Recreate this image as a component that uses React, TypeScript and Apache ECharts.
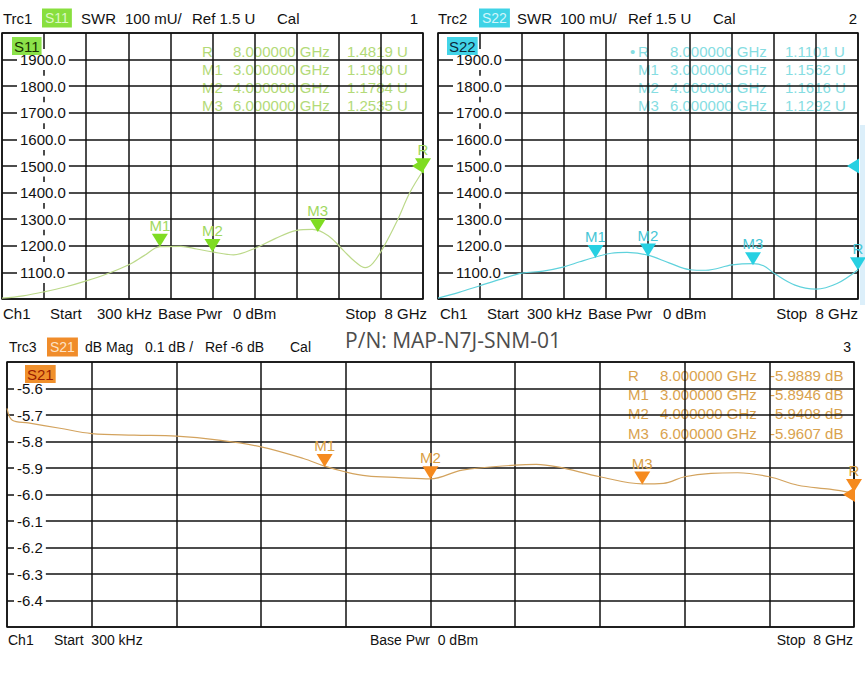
import React, { useEffect, useRef } from 'react';
import * as echarts from 'echarts';

const FONT = '"Liberation Sans", Arial, sans-serif';

// ---------- data ----------
const s11Freq = [0.0003, 0.4, 0.8, 1.2, 1.6, 2.0, 2.4, 2.7, 3.0, 3.4, 3.7, 4.0, 4.4, 4.8, 5.2, 5.6, 5.9, 6.2, 6.5, 6.7, 6.9, 7.05, 7.25, 7.5, 7.75, 8.0];
const s11Val = [1003, 1012, 1027, 1045, 1068, 1095, 1128, 1163, 1197, 1198, 1188, 1177, 1166, 1190, 1228, 1258, 1262, 1238, 1180, 1142, 1118, 1135, 1195, 1290, 1400, 1482];

const s22Freq = [0.0003, 0.4, 0.8, 1.2, 1.6, 2.0, 2.4, 2.7, 3.0, 3.3, 3.6, 4.0, 4.4, 4.8, 5.1, 5.6, 6.0, 6.2, 6.4, 6.8, 7.2, 7.6, 8.0];
const s22Val = [1003, 1025, 1050, 1075, 1097, 1105, 1121, 1140, 1158, 1172, 1175, 1165, 1136, 1110, 1108, 1128, 1133, 1125, 1097, 1052, 1037, 1058, 1110];

const s21Freq = [0.0003, 0.05, 0.2, 0.5, 0.8, 1.2, 1.6, 2.0, 2.4, 2.8, 3.0, 3.2, 3.4, 3.7, 4.0, 4.3, 4.8, 5.0, 5.2, 5.6, 6.0, 6.2, 6.4, 6.65, 6.9, 7.2, 7.47, 7.77, 8.0];
const s21Val = [-5.675, -5.72, -5.73, -5.75, -5.77, -5.776, -5.78, -5.795, -5.82, -5.864, -5.893, -5.915, -5.93, -5.936, -5.941, -5.908, -5.889, -5.886, -5.896, -5.933, -5.96, -5.958, -5.933, -5.92, -5.918, -5.933, -5.965, -5.98, -5.995];

const markerNames = ['R', 'M1', 'M2', 'M3'];
const markerFreqs = [8, 3, 4, 6];
const s11Markers = [1.4819, 1.198, 1.1784, 1.2535];
const s22Markers = [1.1101, 1.1562, 1.1616, 1.1292];
const s21Markers = [-5.9889, -5.8946, -5.9408, -5.9607];
const refLevels = [1500, 1500, -6];

const header1 = ['Trc1', 'S11', 'SWR', '100 mU/', 'Ref 1.5 U', 'Cal', '1'];
const header2 = ['Trc2', 'S22', 'SWR', '100 mU/', 'Ref 1.5 U', 'Cal', '2'];
const header3 = ['Trc3', 'S21', 'dB Mag', '0.1 dB /', 'Ref -6 dB', 'Cal', '3'];
const footer = ['Ch1', 'Start', '300 kHz', 'Base Pwr', '0 dBm', 'Stop  8 GHz'];
const partNumber = 'P/N: MAP-N7J-SNM-01';

// ---------- helpers ----------
function txt(x: number, y: number, text: string, o: any = {}) {
  const size = o.size ?? 15;
  return {
    type: 'text',
    x,
    y,
    z: o.z ?? 20,
    silent: true,
    style: {
      text,
      fill: o.fill ?? '#111',
      fontSize: size,
      fontFamily: o.family ?? FONT,
      align: o.align ?? 'left',
      textAlign: o.align ?? 'left',
      verticalAlign: 'middle',
      textVerticalAlign: 'middle',
      backgroundColor: o.bg,
      padding: o.pad,
      opacity: o.opacity ?? 1,
    },
  };
}

function readouts(vals: number[], unit: string, digits: number, pos: any, color: string, dot: boolean) {
  const els: any[] = [];
  vals.forEach((v, i) => {
    const y = pos.rows[i];
    const o = { fill: color, z: -1, size: pos.size };
    els.push(txt(pos.name, y, markerNames[i], o));
    if (dot && i === 0) els.push(txt(pos.name - 8, y, '•', o));
    els.push(txt(pos.freq, y, markerFreqs[i].toFixed(6) + ' GHz', o));
    els.push(txt(pos.val, y, v.toFixed(digits) + ' ' + unit, o));
  });
  return els;
}

function markSeries(name: string, grid: number, xs: number[], ys: number[], lineColor: string, markColor: string, labelColor: string, mVals: number[], ref: number) {
  const data: any[] = mVals.map((v, i) => ({ name: markerNames[i], coord: [markerFreqs[i], v] }));
  data.push({
    name: 'ref',
    coord: [8, ref],
    symbolRotate: 90,
    symbolSize: [15, 12],
    symbolOffset: [-5, 0],
    label: { show: false },
  });
  return {
    type: 'line',
    name,
    xAxisIndex: grid,
    yAxisIndex: grid,
    data: xs.map((x, i) => [x, ys[i]]),
    showSymbol: false,
    smooth: 0.35,
    lineStyle: { color: lineColor, width: 1.2 },
    z: 4,
    markPoint: {
      symbol: 'triangle',
      symbolSize: [16, 13],
      symbolRotate: 180,
      symbolOffset: [0, -6],
      itemStyle: { color: markColor },
      label: { show: true, position: 'top', distance: 1, formatter: '{b}', color: labelColor, fontSize: 15, fontFamily: FONT },
      data,
      z: 6,
    },
  };
}

export default function App() {
  const ref = useRef<HTMLDivElement>(null);
  useEffect(() => {
    const chart = echarts.init(ref.current!, null, { renderer: 'svg' });

    const grids = [
      { left: 2, top: 33, width: 421, height: 266 },
      { left: 438, top: 33, width: 420, height: 266 },
      { left: 7, top: 362, width: 847, height: 265 },
    ].map((g) => ({ ...g, show: true, borderColor: '#111', borderWidth: 1.5, backgroundColor: 'transparent', containLabel: false }));

    const xAxes = [0, 1, 2].map((i) => ({
      type: 'value',
      gridIndex: i,
      min: 0,
      max: 8,
      interval: 0.8,
      axisLabel: { show: false },
      axisTick: { show: false },
      axisLine: { show: false },
      splitLine: { show: true, lineStyle: { color: '#111', width: 1.5 } },
      z: 1,
    }));

    const yLabel = (margin: number, size: number, dec: number) => ({
      inside: true,
      margin,
      showMinLabel: false,
      showMaxLabel: false,
      formatter: (v: number) => v.toFixed(dec),
      color: '#111',
      fontSize: size,
      fontFamily: FONT,
      backgroundColor: '#fff',
      padding: [3, 3, 3, 3],
    });

    const yAxes = [
      { gridIndex: 0, min: 1000, max: 2000, interval: 100, axisLabel: yLabel(15, 15, 1) },
      { gridIndex: 1, min: 1000, max: 2000, interval: 100, axisLabel: yLabel(15, 15, 1) },
      { gridIndex: 2, min: -6.5, max: -5.5, interval: 0.1, axisLabel: yLabel(7, 15, 1) },
    ].map((a) => ({
      type: 'value',
      ...a,
      axisTick: { show: false },
      axisLine: { show: false },
      splitLine: { show: true, lineStyle: { color: '#111', width: 1.5 } },
      z: 3,
    }));

    const g: any[] = [];
    // headers
    const h1x = [3, 42, 81, 125, 192, 277, 418];
    const h2x = [438, 479, 517, 560, 628, 713, 857];
    const h3x = [9, 47, 85, 145, 205, 290, 851];
    const headerBlock = (h: string[], xs: number[], y: number, size: number, bg: string, fg: string) => {
      h.forEach((t, i) => {
        if (i === 1) g.push(txt(xs[i], y, t, { size: 14, bg, fill: fg, pad: [3, 3, 2, 3] }));
        else g.push(txt(xs[i], y, t, { size, align: i === 6 ? 'right' : 'left' }));
      });
    };
    headerBlock(header1, h1x, 18, 15, '#88df3e', '#dcf8c4');
    headerBlock(header2, h2x, 18, 15, '#3fd3e6', '#d0f6fb');
    headerBlock(header3, h3x, 347, 14, '#f08c2a', '#fde2c4');

    // in-plot trace labels
    g.push(txt(12, 46, 'S11', { size: 15, bg: '#8be24a', fill: '#173400', pad: [2, 2, 1, 2], z: 30 }));
    g.push(txt(447, 46, 'S22', { size: 15, bg: '#42d4e8', fill: '#0b2a3c', pad: [2, 2, 1, 2], z: 30 }));
    g.push(txt(25, 374, 'S21', { size: 15, bg: '#f0902c', fill: '#9a1c00', pad: [2, 2, 1, 2], z: 30 }));

    // footers
    const fy = 313;
    const f1x = [3, 50, 97, 158, 233];
    const f2x = [440, 487, 527, 588, 663];
    footer.slice(0, 5).forEach((t, i) => {
      g.push(txt(f1x[i], fy, t));
      g.push(txt(f2x[i], fy, t));
    });
    g.push(txt(427, fy, footer[5], { align: 'right' }));
    g.push(txt(858, fy, footer[5], { align: 'right' }));
    const by = 640;
    g.push(txt(8, by, footer[0], { size: 14 }));
    g.push(txt(54, by, footer[1] + '  ' + footer[2], { size: 14 }));
    g.push(txt(370, by, footer[3] + '  ' + footer[4], { size: 14 }));
    g.push(txt(853, by, footer[5], { size: 14, align: 'right' }));

    // part number
    g.push(txt(453, 340, partNumber, { size: 21, family: '"Open Sans", "Noto Sans", sans-serif', fill: '#4d4d4d', align: 'center' }));

    // marker readouts
    g.push(...readouts(s11Markers, 'U', 4, { name: 202, freq: 233, val: 347, rows: [51, 69, 87, 105], size: 15 }, '#b3da78', false));
    g.push(...readouts(s22Markers, 'U', 4, { name: 638, freq: 670, val: 785, rows: [51, 69, 87, 105], size: 15 }, '#86dde2', true));
    g.push(...readouts(s21Markers, 'dB', 4, { name: 628, freq: 660, val: 770, rows: [375, 394, 413.5, 433], size: 15 }, '#d9a24e', false));

    // light strip at the right edge of the screenshot
    g.push({ type: 'rect', shape: { x: 860, y: 125, width: 5, height: 180 }, style: { fill: '#dceffa' }, z: -2, silent: true });

    chart.setOption({
      animation: false,
      backgroundColor: '#fff',
      grid: grids,
      xAxis: xAxes,
      yAxis: yAxes,
      series: [
        markSeries('S11', 0, s11Freq, s11Val, '#bcd98a', '#7fdc22', '#9fd85e', s11Markers.map((v) => v * 1000), refLevels[0]),
        markSeries('S22', 1, s22Freq, s22Val, '#5fd2dc', '#27d0e2', '#45c6d6', s22Markers.map((v) => v * 1000), refLevels[1]),
        markSeries('S21', 2, s21Freq, s21Val, '#d3a35e', '#f58a1e', '#d9a045', s21Markers, refLevels[2]),
      ],
      graphic: { elements: g },
    });
    return () => chart.dispose();
  }, []);
  return <div ref={ref} style={{ position: 'absolute', left: 0, top: 0, width: 865, height: 690 }} />;
}
